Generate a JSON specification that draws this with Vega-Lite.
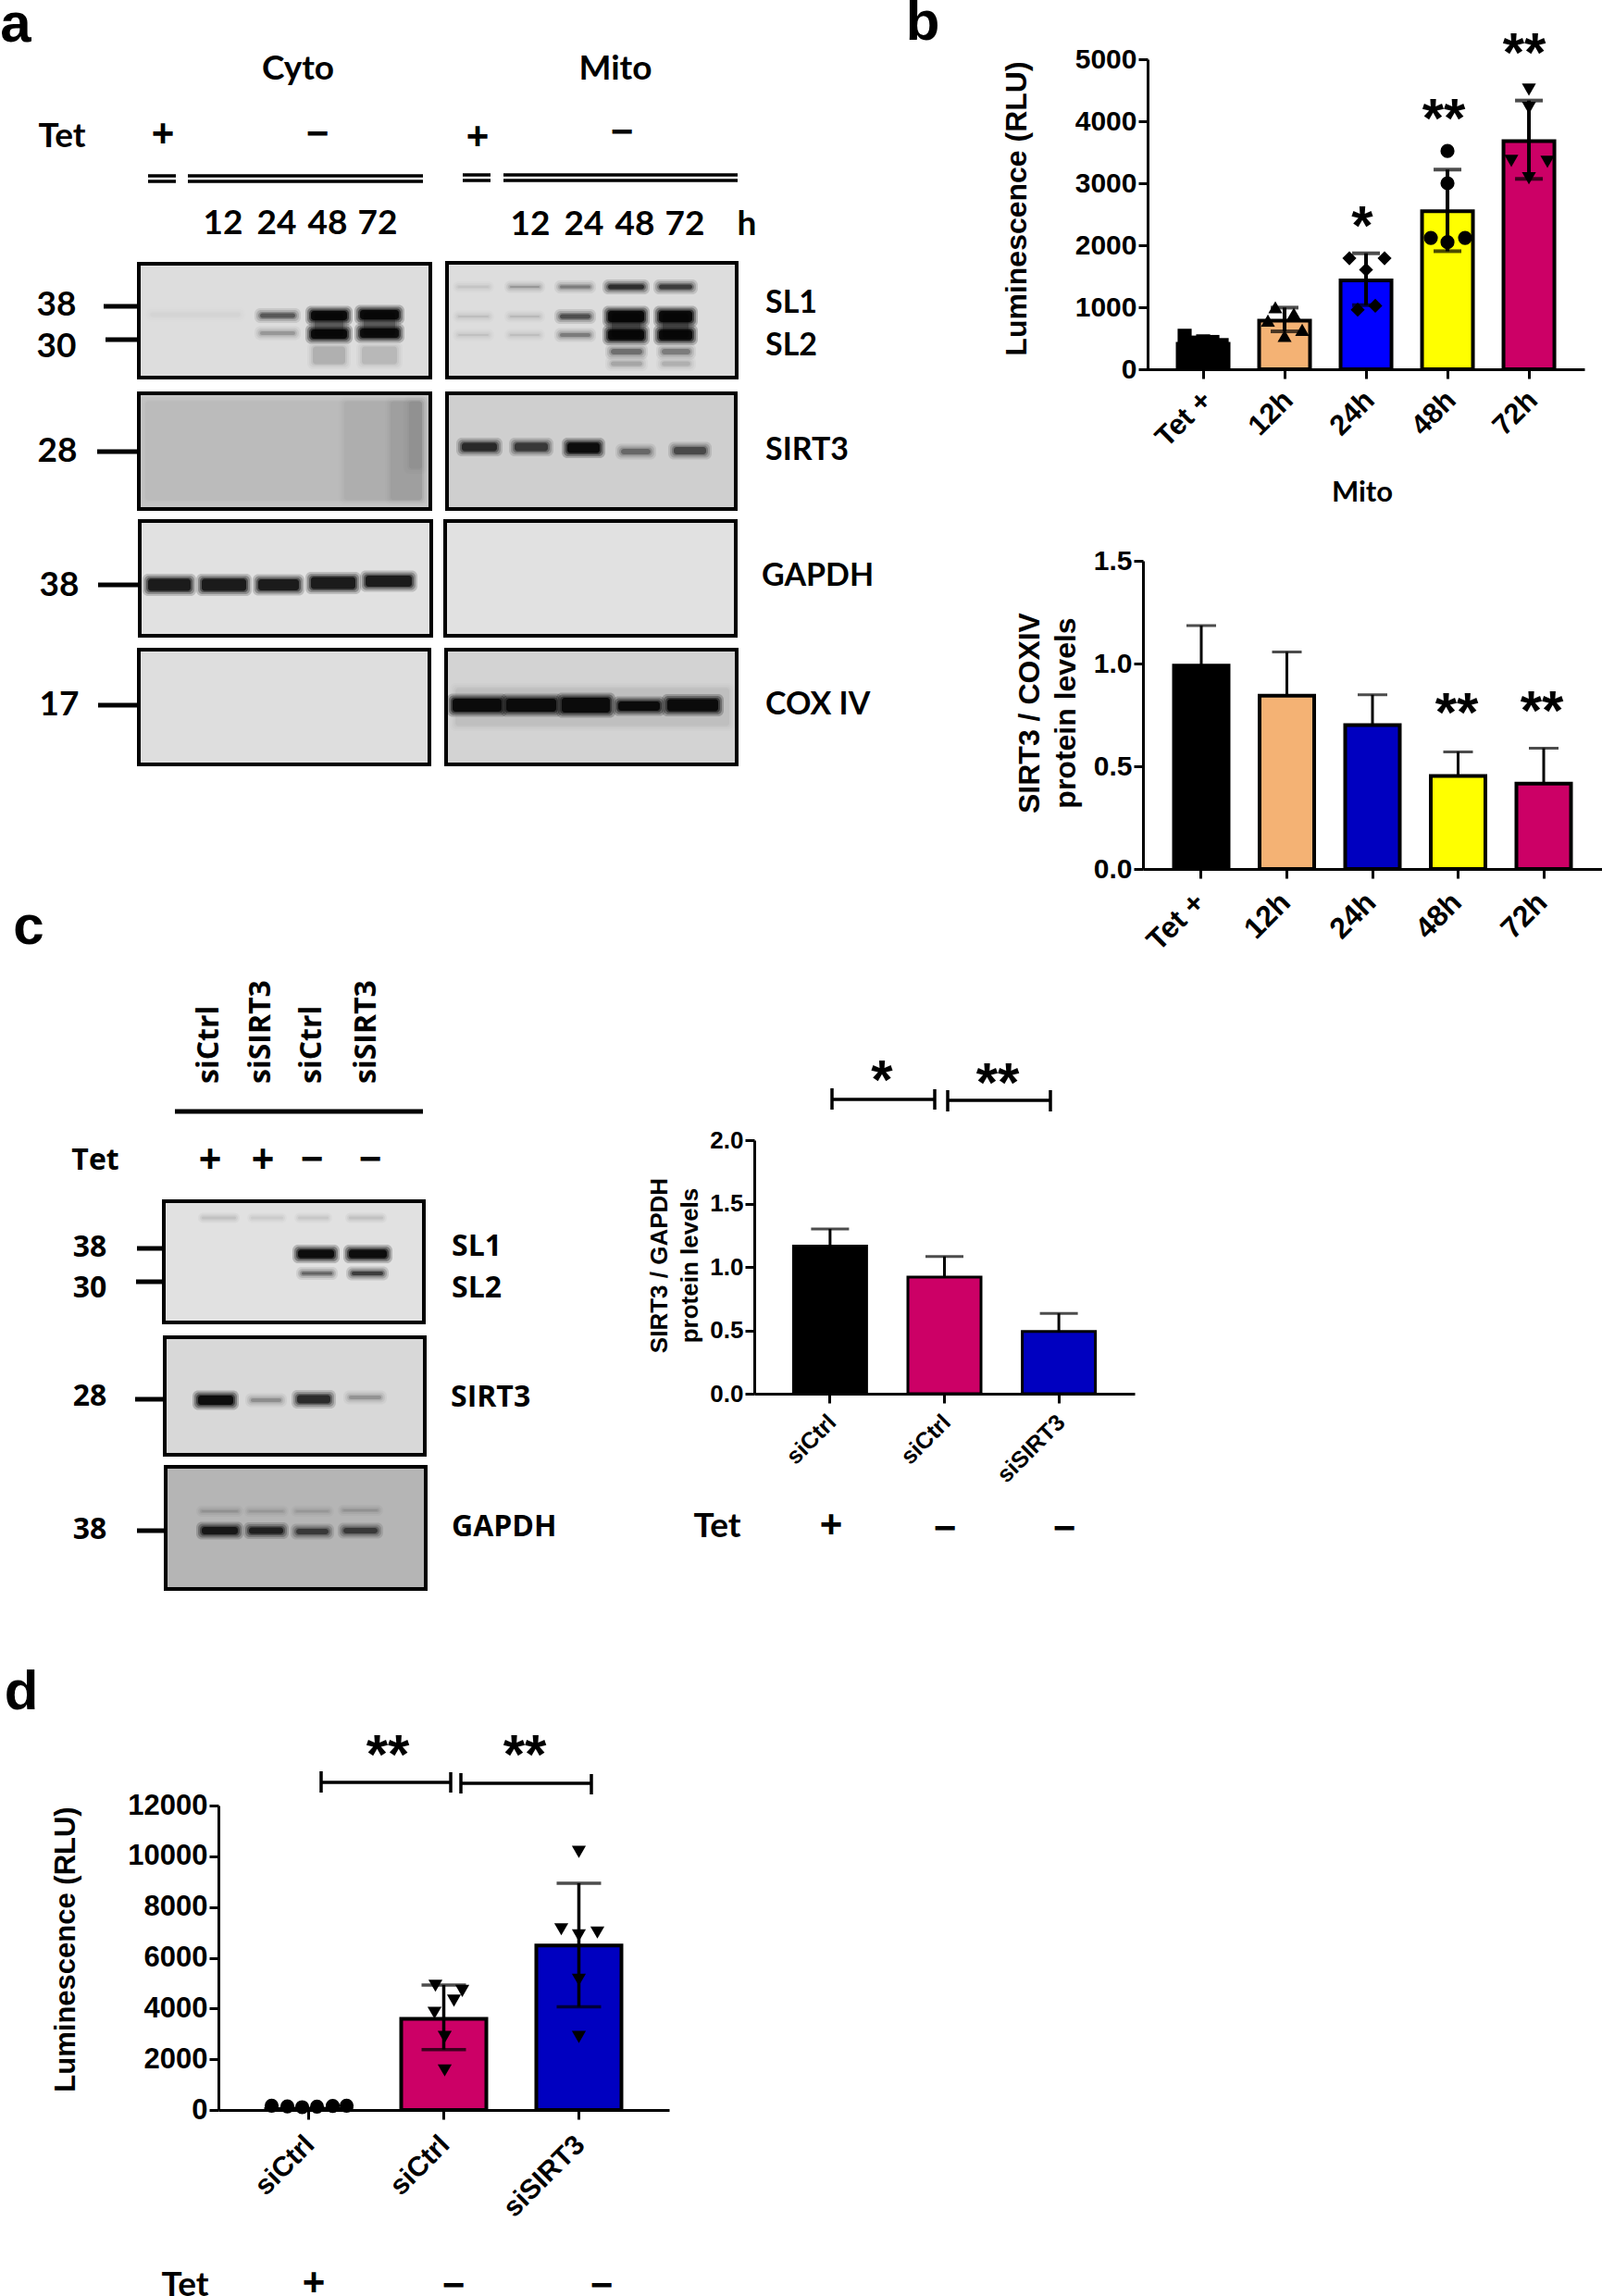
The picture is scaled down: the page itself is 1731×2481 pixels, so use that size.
{
"$schema":"https://vega.github.io/schema/vega-lite/v6.json",
"background":"white","padding":{"left":0,"right":0,"top":-5,"bottom":0},
"config":{"view":{"stroke":null},"axis":{"grid":false,"domainColor":"black","domainWidth":3,"tickColor":"black","tickWidth":3,"tickSize":10,"labelColor":"black","titleColor":"black","labelFont":"Liberation Sans","titleFont":"Liberation Sans","labelFontWeight":"bold","titleFontWeight":"bold","labelOverlap":false,"labelFlush":false,"titleBaseline":"middle","titleAlign":"center","titleAngle":270}},
"datasets":{
"b1":[{"group":"Tet +","value":412,"lo":370,"hi":480},{"group":"12h","value":785,"lo":611,"hi":994},{"group":"24h","value":1431,"lo":1034,"hi":1870},{"group":"48h","value":2550,"lo":1904,"hi":3220},{"group":"72h","value":3680,"lo":3070,"hi":4334}],
"b2":[{"group":"Tet +","value":0.99,"hi":1.185},{"group":"12h","value":0.843,"hi":1.056},{"group":"24h","value":0.7,"hi":0.848},{"group":"48h","value":0.453,"hi":0.57},{"group":"72h","value":0.415,"hi":0.588}],
"c":[{"group":"siCtrl (Tet +)","value":1.165,"hi":1.3},{"group":"siCtrl (Tet −)","value":0.92,"hi":1.083},{"group":"siSIRT3 (Tet −)","value":0.49,"hi":0.633}],
"d":[{"group":"siCtrl (Tet +)","value":40,"lo":30,"hi":60},{"group":"siCtrl (Tet −)","value":3592,"lo":2384,"hi":4927},{"group":"siSIRT3 (Tet −)","value":6485,"lo":4069,"hi":8932}],
"blots":[{"x":150,"x2":465,"y":285,"y2":408,"g":225},{"x":483,"x2":796,"y":284,"y2":408,"g":225},{"x":150,"x2":465,"y":425,"y2":550,"g":205},{"x":483,"x2":795,"y":425,"y2":550,"g":212},{"x":151,"x2":466,"y":563,"y2":687,"g":228},{"x":481,"x2":795,"y":563,"y2":687,"g":228},{"x":150,"x2":464,"y":702,"y2":826,"g":226},{"x":482,"x2":796,"y":702,"y2":826,"g":216},{"x":177,"x2":458,"y":1298,"y2":1429,"g":228},{"x":178,"x2":459,"y":1445,"y2":1572,"g":220},{"x":179,"x2":460,"y":1585,"y2":1717,"g":188}],
"bands":[
{"x":160,"x2":262,"y":340,"h":8,"i":0.02},
{"x":338,"x2":373,"y":351,"h":28,"i":0.3},{"x":391,"x2":429,"y":350,"h":28,"i":0.3},{"x":659,"x2":694,"y":352,"h":30,"i":0.35},{"x":714,"x2":746,"y":352,"h":30,"i":0.35},
{"x":279,"x2":321,"y":341,"h":8,"i":0.45},{"x":279,"x2":321,"y":360,"h":7,"i":0.2},
{"x":334,"x2":377,"y":341,"h":13,"i":1},{"x":334,"x2":377,"y":361,"h":13,"i":1},{"x":336,"x2":375,"y":384,"h":22,"i":0.12},
{"x":387,"x2":433,"y":340,"h":13,"i":1},{"x":387,"x2":433,"y":360,"h":13,"i":0.95},{"x":389,"x2":431,"y":384,"h":22,"i":0.1},
{"x":493,"x2":530,"y":310,"h":4,"i":0.08},{"x":549,"x2":585,"y":310,"h":5,"i":0.2},{"x":603,"x2":640,"y":310,"h":6,"i":0.3},{"x":655,"x2":698,"y":310,"h":8,"i":0.7},{"x":710,"x2":750,"y":310,"h":8,"i":0.6},
{"x":493,"x2":530,"y":342,"h":5,"i":0.08},{"x":549,"x2":585,"y":342,"h":5,"i":0.1},{"x":603,"x2":640,"y":342,"h":8,"i":0.5},{"x":655,"x2":698,"y":342,"h":15,"i":1},{"x":710,"x2":750,"y":342,"h":15,"i":1},
{"x":493,"x2":530,"y":362,"h":5,"i":0.07},{"x":549,"x2":585,"y":362,"h":5,"i":0.08},{"x":603,"x2":640,"y":362,"h":7,"i":0.3},{"x":655,"x2":698,"y":362,"h":14,"i":1},{"x":710,"x2":750,"y":362,"h":14,"i":1},
{"x":658,"x2":696,"y":380,"h":9,"i":0.35},{"x":713,"x2":748,"y":380,"h":9,"i":0.3},{"x":658,"x2":696,"y":393,"h":8,"i":0.15},{"x":713,"x2":748,"y":393,"h":8,"i":0.12},
{"x":155,"x2":458,"y":487,"h":110,"i":0.03},{"x":370,"x2":458,"y":487,"h":110,"i":0.035},{"x":420,"x2":458,"y":487,"h":110,"i":0.04},{"x":440,"x2":458,"y":470,"h":76,"i":0.05},
{"x":497,"x2":539,"y":483,"h":12,"i":0.7},{"x":554,"x2":594,"y":483,"h":12,"i":0.6},{"x":611,"x2":650,"y":484,"h":14,"i":1},{"x":669,"x2":705,"y":488,"h":9,"i":0.35},{"x":726,"x2":765,"y":487,"h":11,"i":0.5},
{"x":158,"x2":208,"y":632,"h":16,"i":0.85},{"x":216,"x2":268,"y":632,"h":16,"i":0.85},{"x":277,"x2":325,"y":632,"h":15,"i":0.85},{"x":334,"x2":386,"y":630,"h":16,"i":0.85},{"x":393,"x2":447,"y":628,"h":15,"i":0.85},
{"x":490,"x2":790,"y":764,"h":44,"i":0.05},
{"x":487,"x2":544,"y":762,"h":17,"i":1},{"x":545,"x2":603,"y":762,"h":17,"i":1},{"x":605,"x2":661,"y":762,"h":19,"i":1},{"x":666,"x2":715,"y":763,"h":13,"i":1},{"x":719,"x2":778,"y":762,"h":16,"i":1},
{"x":218,"x2":255,"y":1316,"h":3,"i":0.15},{"x":271,"x2":306,"y":1316,"h":3,"i":0.1},{"x":322,"x2":355,"y":1316,"h":3,"i":0.12},{"x":377,"x2":414,"y":1316,"h":3,"i":0.15},
{"x":320,"x2":363,"y":1355,"h":12,"i":1},{"x":375,"x2":420,"y":1355,"h":12,"i":1},{"x":324,"x2":361,"y":1376,"h":6,"i":0.4},{"x":378,"x2":416,"y":1376,"h":7,"i":0.6},
{"x":212,"x2":254,"y":1513,"h":13,"i":1},{"x":269,"x2":306,"y":1513,"h":7,"i":0.22},{"x":319,"x2":359,"y":1512,"h":12,"i":0.7},{"x":375,"x2":414,"y":1510,"h":7,"i":0.2},
{"x":216,"x2":259,"y":1654,"h":11,"i":0.85},{"x":267,"x2":308,"y":1654,"h":10,"i":0.75},{"x":318,"x2":357,"y":1655,"h":9,"i":0.55},{"x":369,"x2":410,"y":1654,"h":9,"i":0.55},
{"x":216,"x2":259,"y":1633,"h":4,"i":0.15},{"x":267,"x2":308,"y":1633,"h":4,"i":0.12},{"x":318,"x2":357,"y":1633,"h":4,"i":0.12},{"x":369,"x2":410,"y":1632,"h":4,"i":0.15}
]
},
"columns":4,"bounds":"flush","spacing":0,
"resolve":{"scale":{"xOffset":"independent"}},
"concat":[
 {"width":236,"height":64,
  "encoding":{"x":{"field":"x","type":"quantitative","scale":{"domain":[0,236],"nice":false,"zero":false},"axis":null},"y":{"field":"y","type":"quantitative","scale":{"domain":[0,64],"nice":false,"zero":false,"reverse":true},"axis":null}},
  "layer":[
   {"data":{"name":"blots"},"mark":{"type":"rect","stroke":"black","strokeWidth":4},"encoding":{"x2":{"field":"x2"},"y2":{"field":"y2"},"color":{"field":"g","type":"quantitative","legend":null,"scale":{"domain":[0,255],"range":["#000000","#ffffff"]}}}},
   {"data":{"name":"bands"},"transform":[{"calculate":"datum.x-4","as":"xa"},{"calculate":"datum.x2+4","as":"xb"},{"calculate":"datum.y-datum.h/2-4","as":"ya"},{"calculate":"datum.y+datum.h/2+4","as":"yb"},{"calculate":"datum.i*0.2","as":"a"}],"mark":{"type":"rect","color":"black","cornerRadius":6},"encoding":{"x":{"field":"xa","type":"quantitative","axis":null},"x2":{"field":"xb"},"y":{"field":"ya","type":"quantitative","axis":null},"y2":{"field":"yb"},"opacity":{"field":"a","type":"quantitative","scale":null}}},
   {"data":{"name":"bands"},"transform":[{"calculate":"datum.x-2","as":"xa"},{"calculate":"datum.x2+2","as":"xb"},{"calculate":"datum.y-datum.h/2-2","as":"ya"},{"calculate":"datum.y+datum.h/2+2","as":"yb"},{"calculate":"datum.i*0.3","as":"a"}],"mark":{"type":"rect","color":"black","cornerRadius":5},"encoding":{"x":{"field":"xa","type":"quantitative","axis":null},"x2":{"field":"xb"},"y":{"field":"ya","type":"quantitative","axis":null},"y2":{"field":"yb"},"opacity":{"field":"a","type":"quantitative","scale":null}}},
   {"data":{"name":"bands"},"transform":[{"calculate":"datum.x","as":"xa"},{"calculate":"datum.x2","as":"xb"},{"calculate":"datum.y-datum.h/2","as":"ya"},{"calculate":"datum.y+datum.h/2","as":"yb"},{"calculate":"datum.i*0.45","as":"a"}],"mark":{"type":"rect","color":"black","cornerRadius":4},"encoding":{"x":{"field":"xa","type":"quantitative","axis":null},"x2":{"field":"xb"},"y":{"field":"ya","type":"quantitative","axis":null},"y2":{"field":"yb"},"opacity":{"field":"a","type":"quantitative","scale":null}}},
   {"data":{"name":"bands"},"transform":[{"calculate":"datum.x+2","as":"xa"},{"calculate":"datum.x2-2","as":"xb"},{"calculate":"datum.y-datum.h/2+1.5","as":"ya"},{"calculate":"datum.y+datum.h/2-1.5","as":"yb"},{"calculate":"datum.i*0.8","as":"a"}],"mark":{"type":"rect","color":"black","cornerRadius":3},"encoding":{"x":{"field":"xa","type":"quantitative","axis":null},"x2":{"field":"xb"},"y":{"field":"ya","type":"quantitative","axis":null},"y2":{"field":"yb"},"opacity":{"field":"a","type":"quantitative","scale":null}}},
   {"data":{"values":[
     {"x":160,"x2":190,"y":190,"y2":190},{"x":160,"x2":190,"y":196,"y2":196},{"x":203,"x2":457,"y":190,"y2":190},{"x":203,"x2":457,"y":196,"y2":196},
     {"x":500,"x2":530,"y":189,"y2":189},{"x":500,"x2":530,"y":195,"y2":195},{"x":544,"x2":797,"y":189,"y2":189},{"x":544,"x2":797,"y":195,"y2":195},
     {"x":899,"x2":1010,"y":1188,"y2":1188},{"x":899,"x2":899,"y":1176,"y2":1199},{"x":1010,"x2":1010,"y":1177,"y2":1199},
     {"x":1024,"x2":1135,"y":1189,"y2":1189},{"x":1024,"x2":1024,"y":1178,"y2":1201},{"x":1135,"x2":1135,"y":1178,"y2":1201},
     {"x":347,"x2":487,"y":1926,"y2":1926},{"x":347,"x2":347,"y":1914,"y2":1937},{"x":487,"x2":487,"y":1915,"y2":1937},
     {"x":498,"x2":639,"y":1927,"y2":1927},{"x":498,"x2":498,"y":1916,"y2":1938},{"x":639,"x2":639,"y":1917,"y2":1939}
    ]},"mark":{"type":"rule","color":"black","strokeWidth":3.5},"encoding":{"x2":{"field":"x2"},"y2":{"field":"y2"}}},
   {"data":{"values":[
     {"x":112,"x2":150,"y":331,"y2":331},{"x":114,"x2":150,"y":367,"y2":367},{"x":105,"x2":150,"y":488,"y2":488},{"x":106,"x2":150,"y":632,"y2":632},{"x":106,"x2":150,"y":762,"y2":762},
     {"x":148,"x2":177,"y":1349,"y2":1349},{"x":147,"x2":177,"y":1385,"y2":1385},{"x":146,"x2":178,"y":1512,"y2":1512},{"x":148,"x2":179,"y":1654,"y2":1654},
     {"x":189,"x2":457,"y":1201,"y2":1201}
    ]},"mark":{"type":"rule","color":"black","strokeWidth":5},"encoding":{"x2":{"field":"x2"},"y2":{"field":"y2"}}},
   {"data":{"values":[{"t":"a","x":17,"y":27},{"t":"b","x":997,"y":25},{"t":"c","x":31,"y":1002},{"t":"d","x":23,"y":1829}]},"mark":{"type":"text","font":"Liberation Sans","fontWeight":"bold","fontSize":60,"baseline":"middle","align":"center","color":"black"},"encoding":{"text":{"field":"t"}}},
   {"data":{"values":[
     {"t":"Cyto","x":322,"y":75},{"t":"Mito","x":665,"y":75},{"t":"Tet","x":67,"y":148},
     {"t":"12","x":241,"y":242},{"t":"24","x":299,"y":242},{"t":"48","x":354,"y":242},{"t":"72","x":408,"y":242},
     {"t":"12","x":573,"y":243},{"t":"24","x":631,"y":243},{"t":"48","x":686,"y":243},{"t":"72","x":740,"y":243},{"t":"h","x":807,"y":243},
     {"t":"38","x":61,"y":330},{"t":"30","x":61,"y":375},{"t":"28","x":62,"y":488},{"t":"38","x":64,"y":633},{"t":"17","x":64,"y":762},
     {"t":"Tet","x":775,"y":1650},{"t":"Tet","x":200,"y":2470}
    ]},"mark":{"type":"text","font":"Lato","fontWeight":"bold","fontSize":37,"baseline":"middle","align":"center","color":"black"},"encoding":{"text":{"field":"t"}}},
   {"data":{"values":[{"t":"Mito","x":1472,"y":533}]},"mark":{"type":"text","font":"Lato","fontWeight":"bold","fontSize":31,"baseline":"middle","align":"center","color":"black"},"encoding":{"text":{"field":"t"}}},
   {"data":{"values":[{"t":"SL1","x":827,"y":328},{"t":"SL2","x":827,"y":374},{"t":"SIRT3","x":827,"y":487},{"t":"GAPDH","x":823,"y":623},{"t":"COX IV","x":827,"y":762}]},"mark":{"type":"text","font":"Lato","fontWeight":"bold","fontSize":34,"baseline":"middle","align":"left","color":"black"},"encoding":{"text":{"field":"t"}}},
   {"data":{"values":[
     {"t":"+","x":176,"y":145},{"t":"−","x":343,"y":145},{"t":"+","x":516,"y":148},{"t":"−","x":672,"y":143},
     {"t":"+","x":227,"y":1253},{"t":"+","x":284,"y":1253},{"t":"−","x":337,"y":1253},{"t":"−","x":400,"y":1253},
     {"t":"+","x":898,"y":1648},{"t":"−","x":1021,"y":1652},{"t":"−","x":1150,"y":1652},
     {"t":"+","x":339,"y":2467},{"t":"−","x":490,"y":2470},{"t":"−","x":650,"y":2470}
    ]},"mark":{"type":"text","font":"Liberation Sans","fontWeight":"bold","fontSize":42,"baseline":"middle","align":"center","color":"black"},"encoding":{"text":{"field":"t"}}},
   {"data":{"values":[
     {"t":"38","x":97,"y":1348},{"t":"30","x":97,"y":1392},{"t":"28","x":97,"y":1509},{"t":"38","x":97,"y":1653},{"t":"Tet","x":103,"y":1254}
    ]},"mark":{"type":"text","font":"Open Sans","fontWeight":"bold","fontSize":32,"baseline":"middle","align":"center","color":"black"},"encoding":{"text":{"field":"t"}}},
   {"data":{"values":[
     {"t":"SL1","x":488,"y":1347},{"t":"SL2","x":488,"y":1392},{"t":"SIRT3","x":487,"y":1510},{"t":"GAPDH","x":488,"y":1650}
    ]},"mark":{"type":"text","font":"Open Sans","fontWeight":"bold","fontSize":32,"baseline":"middle","align":"left","color":"black"},"encoding":{"text":{"field":"t"}}},
   {"data":{"values":[
     {"t":"siCtrl","x":226,"y":1171},{"t":"siSIRT3","x":282,"y":1171},{"t":"siCtrl","x":337,"y":1171},{"t":"siSIRT3","x":396,"y":1171}
    ]},"mark":{"type":"text","font":"Open Sans","fontWeight":"bold","fontSize":32,"baseline":"middle","align":"left","angle":270,"color":"black"},"encoding":{"text":{"field":"t"}}},
   {"data":{"values":[
     {"t":"**","x":1647,"y":42},{"t":"**","x":1560,"y":113},{"t":"*","x":1472,"y":229},{"t":"**","x":1574,"y":755},{"t":"**","x":1666,"y":753},
     {"t":"*","x":953,"y":1152},{"t":"**","x":1078,"y":1155},{"t":"**","x":419,"y":1881},{"t":"**","x":567,"y":1881}
    ]},"mark":{"type":"text","font":"Liberation Sans","fontWeight":"bold","fontSize":60,"baseline":"middle","align":"center","dy":17,"color":"black"},"encoding":{"text":{"field":"t"}}}
  ]},
 {"width":579,"height":1,"data":{"values":[]},"mark":"rect","encoding":{}},
 {"width":420,"height":1,"data":{"values":[]},"mark":"rect","encoding":{}},
 {"width":1,"height":1,"data":{"values":[]},"mark":"rect","encoding":{}},

 {"width":1,"height":1,"data":{"values":[]},"mark":"rect","encoding":{}},
 {"width":1,"height":1,"data":{"values":[]},"mark":"rect","encoding":{}},
 {"width":1,"height":1,"data":{"values":[]},"mark":"rect","encoding":{}},
 {"width":477,"height":335,
  "encoding":{"x":{"field":"group","type":"nominal","sort":null,"scale":{"type":"band","paddingInner":0.3,"paddingOuter":0.36,"align":0.54},"axis":{"title":null,"labelAngle":-45,"labelAlign":"right","labelBaseline":"top","labelFontSize":31,"labelPadding":8,"labelOffset":-6}}},
  "layer":[
   {"data":{"name":"b1"},"mark":{"type":"bar","size":55,"stroke":"black","strokeWidth":4},"encoding":{"y":{"field":"value","type":"quantitative","scale":{"domain":[0,5000],"nice":false},"axis":{"title":"Luminescence (RLU)","values":[0,1000,2000,3000,4000,5000],"format":"d","offset":-5,"labelFontSize":30,"titleFontSize":32,"titleX":-142,"titleY":161}},"color":{"field":"group","type":"nominal","legend":null,"sort":null,"scale":{"domain":["Tet +","12h","24h","48h","72h"],"range":["#000000","#F4B274","#0000FF","#FFFF00","#CC0066"]}}}},
   {"data":{"name":"b1"},"mark":{"type":"rule","color":"black","strokeWidth":4},"encoding":{"y":{"field":"lo","type":"quantitative"},"y2":{"field":"hi"}}},
   {"data":{"name":"b1"},"mark":{"type":"tick","color":"black","size":30,"thickness":4},"encoding":{"y":{"field":"hi","type":"quantitative"}}},
   {"data":{"name":"b1"},"mark":{"type":"tick","color":"black","size":30,"thickness":4},"encoding":{"y":{"field":"lo","type":"quantitative"}}},
   {"data":{"values":[
     {"group":"Tet +","dx":-20,"v":540,"s":"square"},{"group":"Tet +","dx":-10,"v":430,"s":"square"},{"group":"Tet +","dx":0,"v":450,"s":"square"},{"group":"Tet +","dx":10,"v":440,"s":"square"},{"group":"Tet +","dx":20,"v":390,"s":"square"},
     {"group":"12h","dx":-10,"v":1000,"s":"triangle-up"},{"group":"12h","dx":10,"v":895,"s":"triangle-up"},{"group":"12h","dx":-18,"v":785,"s":"triangle-up"},{"group":"12h","dx":19,"v":636,"s":"triangle-up"},{"group":"12h","dx":0,"v":537,"s":"triangle-up"},
     {"group":"24h","dx":-18,"v":1790,"s":"diamond"},{"group":"24h","dx":20,"v":1790,"s":"diamond"},{"group":"24h","dx":0,"v":1605,"s":"diamond"},{"group":"24h","dx":10,"v":1024,"s":"diamond"},{"group":"24h","dx":-9,"v":960,"s":"diamond"},
     {"group":"48h","dx":0,"v":3520,"s":"circle"},{"group":"48h","dx":0,"v":3000,"s":"circle"},{"group":"48h","dx":-18,"v":2118,"s":"circle"},{"group":"48h","dx":19,"v":2118,"s":"circle"},{"group":"48h","dx":0,"v":2050,"s":"circle"},
     {"group":"72h","dx":0,"v":4510,"s":"triangle-down"},{"group":"72h","dx":0,"v":4215,"s":"triangle-down"},{"group":"72h","dx":-19,"v":3360,"s":"triangle-down"},{"group":"72h","dx":20,"v":3345,"s":"triangle-down"},{"group":"72h","dx":0,"v":3080,"s":"triangle-down"}
    ]},"mark":{"type":"point","filled":true,"color":"black","opacity":1,"size":230},"encoding":{"y":{"field":"v","type":"quantitative"},"xOffset":{"field":"dx","type":"quantitative","scale":{"domain":[-44,44],"range":[-13.2,74.8]}},"shape":{"field":"s","type":"nominal","legend":null,"scale":null}}}
  ]},

 {"width":1,"height":207,"data":{"values":[]},"mark":"rect","encoding":{}},
 {"width":1,"height":1,"data":{"values":[]},"mark":"rect","encoding":{}},
 {"width":1,"height":1,"data":{"values":[]},"mark":"rect","encoding":{}},
 {"width":1,"height":1,"data":{"values":[]},"mark":"rect","encoding":{}},

 {"width":1,"height":1,"data":{"values":[]},"mark":"rect","encoding":{}},
 {"width":1,"height":1,"data":{"values":[]},"mark":"rect","encoding":{}},
 {"width":1,"height":1,"data":{"values":[]},"mark":"rect","encoding":{}},
 {"width":496,"height":333,"data":{"name":"b2"},
  "encoding":{"x":{"field":"group","type":"nominal","sort":null,"scale":{"type":"band","paddingInner":0.3,"paddingOuter":0.331},"axis":{"title":null,"labelAngle":-45,"labelAlign":"right","labelBaseline":"top","labelFontSize":32,"labelPadding":10,"labelOffset":-12}}},
  "layer":[
   {"mark":{"type":"rule","color":"black","strokeWidth":3},"encoding":{"y":{"field":"value","type":"quantitative"},"y2":{"field":"hi"}}},
   {"mark":{"type":"tick","color":"black","size":32,"thickness":3},"encoding":{"y":{"field":"hi","type":"quantitative"}}},
   {"mark":{"type":"bar","size":59,"stroke":"black","strokeWidth":4},"encoding":{"y":{"field":"value","type":"quantitative","scale":{"domain":[0,1.5],"nice":false},"axis":{"title":["SIRT3 / COXIV","protein levels"],"values":[0,0.5,1,1.5],"format":".1f","labelFontSize":30,"titleFontSize":32,"titleLineHeight":39,"titleX":-123,"titleY":164}},"color":{"field":"group","type":"nominal","legend":null,"sort":null,"scale":{"domain":["Tet +","12h","24h","48h","72h"],"range":["#000000","#F4B274","#0000C0","#FFFF00","#CC0066"]}}}}
  ]},

 {"width":1,"height":293,"data":{"values":[]},"mark":"rect","encoding":{}},
 {"width":1,"height":1,"data":{"values":[]},"mark":"rect","encoding":{}},
 {"width":1,"height":1,"data":{"values":[]},"mark":"rect","encoding":{}},
 {"width":1,"height":1,"data":{"values":[]},"mark":"rect","encoding":{}},

 {"width":1,"height":1,"data":{"values":[]},"mark":"rect","encoding":{}},
 {"width":1,"height":1,"data":{"values":[]},"mark":"rect","encoding":{}},
 {"width":411,"height":274,"data":{"name":"c"},
  "encoding":{"x":{"field":"group","type":"nominal","sort":null,"scale":{"type":"band","paddingInner":0.3,"paddingOuter":0.3125},"axis":{"title":null,"labelAngle":-45,"labelAlign":"right","labelBaseline":"top","labelFontSize":25,"labelPadding":8,"labelOffset":-6,"labelExpr":"split(datum.label,' (')[0]"}}},
  "layer":[
   {"mark":{"type":"rule","color":"black","strokeWidth":3},"encoding":{"y":{"field":"value","type":"quantitative"},"y2":{"field":"hi"}}},
   {"mark":{"type":"tick","color":"black","size":41,"thickness":3},"encoding":{"y":{"field":"hi","type":"quantitative"}}},
   {"mark":{"type":"bar","size":79,"stroke":"black","strokeWidth":3},"encoding":{"y":{"field":"value","type":"quantitative","scale":{"domain":[0,2],"nice":false},"axis":{"title":["SIRT3 / GAPDH","protein levels"],"values":[0,0.5,1,1.5,2],"format":".1f","labelFontSize":26,"titleFontSize":26,"titleLineHeight":33,"titleX":-103,"titleY":135}},"color":{"field":"group","type":"nominal","legend":null,"sort":null,"scale":{"domain":["siCtrl (Tet +)","siCtrl (Tet −)","siSIRT3 (Tet −)"],"range":["#000000","#CC0066","#0000C0"]}}}}
  ]},
 {"width":1,"height":1,"data":{"values":[]},"mark":"rect","encoding":{}},

 {"width":1,"height":445,"data":{"values":[]},"mark":"rect","encoding":{}},
 {"width":1,"height":1,"data":{"values":[]},"mark":"rect","encoding":{}},
 {"width":1,"height":1,"data":{"values":[]},"mark":"rect","encoding":{}},
 {"width":1,"height":1,"data":{"values":[]},"mark":"rect","encoding":{}},

 {"width":1,"height":1,"data":{"values":[]},"mark":"rect","encoding":{}},
 {"width":487,"height":329,
  "encoding":{"x":{"field":"group","type":"nominal","sort":null,"scale":{"type":"band","paddingInner":0.3,"paddingOuter":0.318},"axis":{"title":null,"labelAngle":-45,"labelAlign":"right","labelBaseline":"top","labelFontSize":30,"labelPadding":12,"labelOffset":-9,"labelExpr":"split(datum.label,' (')[0]"}}},
  "layer":[
   {"data":{"name":"d"},"mark":{"type":"bar","size":92,"stroke":"black","strokeWidth":4},"encoding":{"y":{"field":"value","type":"quantitative","scale":{"domain":[0,12000],"nice":false},"axis":{"title":"Luminescence (RLU)","values":[0,2000,4000,6000,8000,10000,12000],"format":"d","labelFontSize":31,"titleFontSize":31,"titleX":-165,"titleY":155}},"color":{"field":"group","type":"nominal","legend":null,"sort":null,"scale":{"domain":["siCtrl (Tet +)","siCtrl (Tet −)","siSIRT3 (Tet −)"],"range":["#000000","#CC0066","#0000C0"]}}}},
   {"data":{"name":"d"},"mark":{"type":"rule","color":"black","strokeWidth":3.5},"encoding":{"y":{"field":"lo","type":"quantitative"},"y2":{"field":"hi"}}},
   {"data":{"name":"d"},"mark":{"type":"tick","color":"black","size":48,"thickness":3.5},"encoding":{"y":{"field":"hi","type":"quantitative"}}},
   {"data":{"name":"d"},"mark":{"type":"tick","color":"black","size":48,"thickness":3.5},"encoding":{"y":{"field":"lo","type":"quantitative"}}},
   {"data":{"values":[
     {"group":"siCtrl (Tet +)","dx":-40,"v":170,"s":"circle"},{"group":"siCtrl (Tet +)","dx":-23,"v":140,"s":"circle"},{"group":"siCtrl (Tet +)","dx":-7,"v":110,"s":"circle"},{"group":"siCtrl (Tet +)","dx":9,"v":130,"s":"circle"},{"group":"siCtrl (Tet +)","dx":26,"v":160,"s":"circle"},{"group":"siCtrl (Tet +)","dx":41,"v":170,"s":"circle"},
     {"group":"siCtrl (Tet −)","dx":-9,"v":4895,"s":"triangle-down"},{"group":"siCtrl (Tet −)","dx":20,"v":4690,"s":"triangle-down"},{"group":"siCtrl (Tet −)","dx":11,"v":4307,"s":"triangle-down"},{"group":"siCtrl (Tet −)","dx":-10,"v":3830,"s":"triangle-down"},{"group":"siCtrl (Tet −)","dx":1,"v":2877,"s":"triangle-down"},{"group":"siCtrl (Tet −)","dx":1,"v":1558,"s":"triangle-down"},
     {"group":"siSIRT3 (Tet −)","dx":0,"v":10172,"s":"triangle-down"},{"group":"siSIRT3 (Tet −)","dx":-19,"v":7120,"s":"triangle-down"},{"group":"siSIRT3 (Tet −)","dx":20,"v":6993,"s":"triangle-down"},{"group":"siSIRT3 (Tet −)","dx":0,"v":6880,"s":"triangle-down"},{"group":"siSIRT3 (Tet −)","dx":0,"v":5134,"s":"triangle-down"},{"group":"siSIRT3 (Tet −)","dx":0,"v":2877,"s":"triangle-down"}
    ]},"mark":{"type":"point","filled":true,"color":"black","opacity":1,"size":230},"encoding":{"y":{"field":"v","type":"quantitative"},"xOffset":{"field":"dx","type":"quantitative","scale":{"domain":[-44,44],"range":[7.1,95.1]}},"shape":{"field":"s","type":"nominal","legend":null,"scale":null}}}
  ]},
 {"width":1,"height":1,"data":{"values":[]},"mark":"rect","encoding":{}},
 {"width":1,"height":1,"data":{"values":[]},"mark":"rect","encoding":{}}
]
}
